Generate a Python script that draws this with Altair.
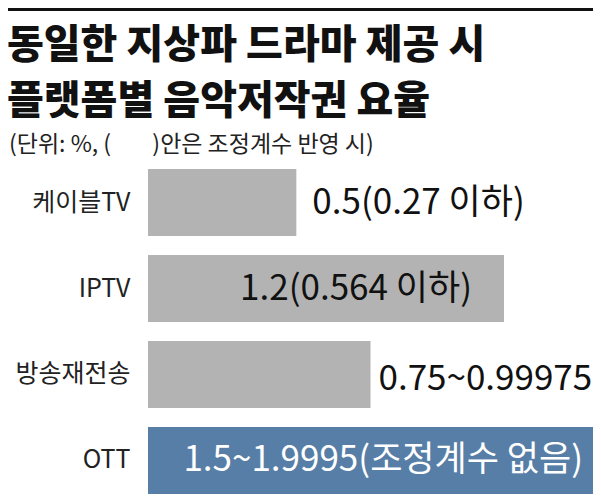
import altair as alt
import pandas as pd

categories = ["케이블TV", "IPTV", "방송재전송", "OTT"]
rates = [0.5, 1.2, 0.75, 1.5]
value_labels = ["0.5(0.27 이하)", "1.2(0.564 이하)", "0.75~0.99975", "1.5~1.9995(조정계수 없음)"]
groups = ["base", "base", "base", "focus"]

title_line1 = "동일한 지상파 드라마 제공 시"
title_line2 = "플랫폼별 음악저작권 요율"
subtitle_text = "(단위: %, (" + "\u00a0" * 8 + ")안은 조정계수 반영 시)"

df = pd.DataFrame({
    "category": categories,
    "rate": rates,
    "label": value_labels,
    "group": groups,
})

FONT = "Liberation Sans Narrow, Noto Sans CJK KR, sans-serif"
TFONT = "Noto Sans CJK KR"

x = alt.X("rate:Q", scale=alt.Scale(domain=[0, 1.5], nice=False, zero=True), axis=None)
y = alt.Y(
    "category:N",
    sort=categories,
    scale=alt.Scale(paddingInner=0.22, paddingOuter=0),
    axis=alt.Axis(
        title=None, domain=False, ticks=False, grid=False,
        labelFontSize=25, labelPadding=18, labelColor="#222222", labelFont=FONT,
    ),
)

base = alt.Chart(df)

bars = base.mark_bar().encode(
    x=x,
    y=y,
    color=alt.Color(
        "group:N",
        scale=alt.Scale(domain=["base", "focus"], range=["#b3b3b3", "#577ea6"]),
        legend=None,
    ),
)

text_style = dict(baseline="middle", font=FONT, fontSize=35)

t_cable = base.transform_filter(alt.datum.category == "케이블TV").mark_text(
    align="left", dx=16, color="#111111", **text_style
).encode(x=x, y=y, text="label:N")

t_iptv = base.transform_filter(alt.datum.category == "IPTV").mark_text(
    align="right", dx=-32, color="#111111", **text_style
).encode(x=x, y=y, text="label:N")

t_retrans = base.transform_filter(alt.datum.category == "방송재전송").mark_text(
    align="left", dx=8, dy=5, color="#111111", **text_style
).encode(x=x, y=y, text="label:N")

t_ott = base.transform_filter(alt.datum.category == "OTT").mark_text(
    align="right", dx=-10, color="#ffffff", **text_style
).encode(x=x, y=y, text="label:N")

one = pd.DataFrame({"k": [0]})

top_rule = alt.Chart(one).mark_rule(color="#111111", strokeWidth=3).encode(
    x=alt.value(-140), x2=alt.value(445), y=alt.value(-159.5)
)

head1 = alt.Chart(one).mark_text(
    align="left", baseline="alphabetic", font=TFONT, fontSize=40, fontWeight=900, color="#111111"
).encode(x=alt.value(-141), y=alt.value(-111), text=alt.value(title_line1))

head2 = alt.Chart(one).mark_text(
    align="left", baseline="alphabetic", font=TFONT, fontSize=40, fontWeight=900, color="#111111"
).encode(x=alt.value(-141), y=alt.value(-55), text=alt.value(title_line2))

sub = alt.Chart(one).mark_text(
    align="left", baseline="alphabetic", font=FONT, fontSize=23, color="#222222"
).encode(x=alt.value(-139), y=alt.value(-17), text=alt.value(subtitle_text))

chart = alt.layer(top_rule, head1, head2, sub, bars, t_cable, t_iptv, t_retrans, t_ott).properties(
    width=445,
    height=325,
    padding={"left": 140, "top": 161, "right": 0, "bottom": 0},
    autosize=alt.AutoSizeParams(type="none"),
).configure_view(stroke=None)

chart.save("out.html", embed_options={"renderer": "svg", "actions": False})
